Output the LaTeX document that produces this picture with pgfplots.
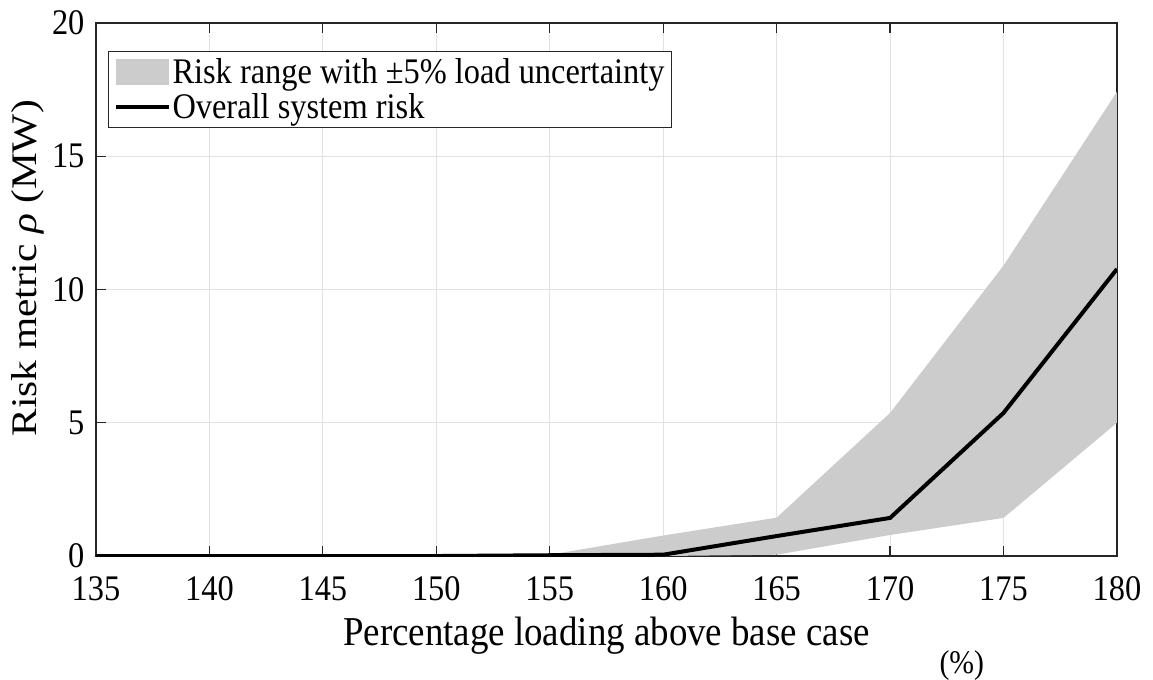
\documentclass[border=0pt]{standalone}
\usepackage{fontspec}
\setmainfont{Liberation Serif}[FakeStretch=0.9]
\newfontfamily\ylabfont{Liberation Serif}[FakeStretch=1.15]
\usepackage{pgfplots}
\pgfplotsset{compat=1.18}
\definecolor{bandgray}{RGB}{204,204,204}
\definecolor{axgray}{RGB}{38,38,38}
\definecolor{gridgray}{RGB}{226,226,226}

\begin{document}
\begin{tikzpicture}
\begin{axis}[
  scale only axis, width=1021pt, height=533pt,
  xmin=135, xmax=180, ymin=0, ymax=20,
  xtick={135,140,...,180}, ytick={0,5,...,20},
  grid=major, major grid style={gridgray, line width=1pt},
  axis line style={axgray, line width=1.3pt},
  tick style={axgray, line width=1.2pt},
  tick align=inside, major tick length=10pt,
  /pgf/number format/assume math mode=true,
  ticklabel style={font=\fontsize{36}{42}\selectfont},
  xticklabel style={yshift=-17pt},
  yticklabel style={xshift=-8pt},
  xlabel={Percentage loading above base case},
  ylabel={Risk metric \textit{ρ} (MW)},
  xlabel style={font=\fontsize{41}{48}\selectfont, at={(rel axis cs:0.5,-0.167)}, anchor=base},
  ylabel style={font=\ylabfont\fontsize{36}{42}\selectfont, at={(rel axis cs:-0.067,0.54)}, anchor=center},
  legend style={at={(rel axis cs:0.0118,0.9475)}, anchor=north west,
    draw=axgray, line width=1pt, font=\fontsize{36}{43}\selectfont,
    inner xsep=5pt, inner ysep=5pt, row sep=5pt},
  legend cell align=left,
]
% uncertainty band: lower edge then upper edge back
\addplot[fill=bandgray, draw=none,
  legend image code/.code={\fill[bandgray] (0pt,-13pt) rectangle (53pt,13pt);}]
  coordinates {(155,0) (160,0) (165,0.05) (170,0.79) (175,1.43) (180,5.0)
               (180,17.42) (175,10.9) (170,5.37) (165,1.44) (160,0.77) (155,0.05)};
\addlegendentry{Risk range with ±5\% load uncertainty}
% overall system risk
\addplot[black, line width=4pt,
  legend image code/.code={\draw[black, line width=4pt] (0pt,0pt) -- (53pt,0pt);}]
  coordinates {(135,0) (140,0) (145,0) (150,0) (155,0.03) (160,0.05)
               (165,0.75) (170,1.43) (175,5.37) (180,10.77)};
\addlegendentry{Overall system risk}
\coordinate (pct) at (rel axis cs:0.848,-0.2195);
\coordinate (bl) at (rel axis cs:-0.0940,-0.2308);
\coordinate (tr) at (rel axis cs:1.0353,1.0432);
\end{axis}
\node[font=\fontsize{33}{40}\selectfont, anchor=base] at (pct) {(\%)};
\pgfresetboundingbox
\path[use as bounding box] (bl) rectangle (tr);
\end{tikzpicture}
\end{document}
